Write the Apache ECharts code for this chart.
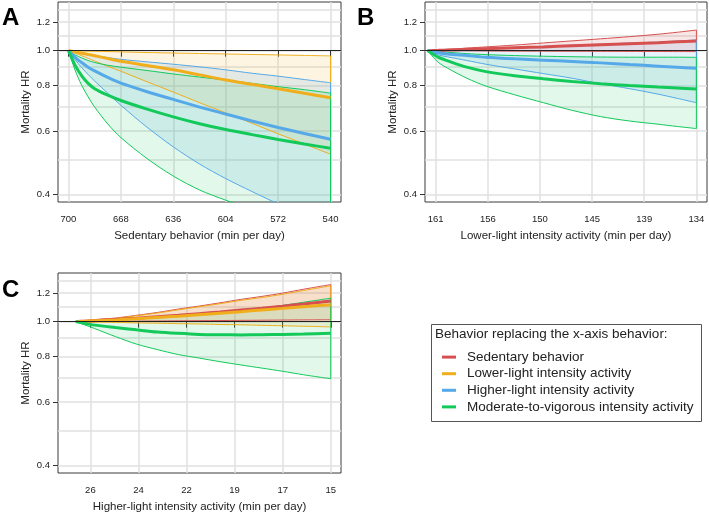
<!DOCTYPE html>
<html><head><meta charset="utf-8">
<script src="https://cdn.jsdelivr.net/npm/echarts@6/dist/echarts.min.js"></script>
<style>html,body{margin:0;padding:0;background:#fff}#c{width:709px;height:515px}</style>
</head><body><div id="c"></div>
<script>
// ---------- y axis (Mortality HR, log scale) ----------
const gridHR  = [0.4, 0.5, 0.6, 0.7, 0.8, 0.9, 1.0, 1.1, 1.2, 1.3];
const labelHR = [0.4, 0.6, 0.8, 1.0, 1.2];

// ---------- Panel A: Sedentary behavior ----------
const xA = [700, 696, 692, 688, 684, 676, 668, 652, 636, 620, 604, 588, 572, 556, 540];
const tickPosA = [700, 668, 636, 604, 572, 540];
const tickLabA = ['700', '668', '636', '604', '572', '540'];
const A_llpa_mid = [1, 0.992, 0.984, 0.976, 0.968, 0.951, 0.935, 0.910, 0.885, 0.857, 0.830, 0.807, 0.785, 0.762, 0.741];
const A_llpa_lo  = [1, 0.984, 0.968, 0.952, 0.936, 0.905, 0.877, 0.820, 0.768, 0.718, 0.673, 0.630, 0.589, 0.552, 0.517];
const A_llpa_hi  = [1, 0.999, 0.998, 0.997, 0.996, 0.994, 0.992, 0.988, 0.985, 0.982, 0.979, 0.976, 0.973, 0.970, 0.967];
const A_hlpa_mid = [1, 0.958, 0.927, 0.900, 0.879, 0.843, 0.813, 0.770, 0.733, 0.698, 0.668, 0.639, 0.613, 0.590, 0.569];
const A_hlpa_lo  = [1, 0.945, 0.898, 0.859, 0.824, 0.762, 0.706, 0.614, 0.542, 0.486, 0.443, 0.408, 0.377, 0.349, 0.326];
const A_hlpa_hi  = [1, 0.989, 0.981, 0.973, 0.967, 0.957, 0.946, 0.931, 0.917, 0.902, 0.885, 0.866, 0.850, 0.832, 0.815];
const A_mvpa_mid = [1, 0.912, 0.853, 0.812, 0.785, 0.753, 0.728, 0.689, 0.656, 0.628, 0.605, 0.586, 0.568, 0.552, 0.537];
const A_mvpa_lo  = [1, 0.884, 0.803, 0.745, 0.698, 0.627, 0.575, 0.503, 0.450, 0.412, 0.386, 0.364, 0.345, 0.329, 0.315];
const A_mvpa_hi  = [1, 0.973, 0.955, 0.939, 0.927, 0.911, 0.900, 0.881, 0.862, 0.845, 0.829, 0.812, 0.795, 0.780, 0.763];

// ---------- Panel B: Lower-light intensity activity ----------
const xB = [162.1, 161, 160, 158, 156, 153, 150, 147, 144, 141, 138, 136, 134];
const tickPosB = [161.25, 155.8, 150.35, 144.9, 139.45, 134];
const tickLabB = ['161', '156', '150', '145', '139', '134'];
const B_sed_mid  = [1, 1.002, 1.004, 1.008, 1.012, 1.018, 1.024, 1.031, 1.038, 1.045, 1.052, 1.058, 1.064];
const B_sed_lo   = [1, 1.000, 0.9995, 0.999, 0.998, 0.997, 0.9965, 0.996, 0.9955, 0.995, 0.9945, 0.994, 0.994];
const B_sed_hi   = [1, 1.004, 1.008, 1.016, 1.024, 1.036, 1.050, 1.064, 1.078, 1.093, 1.110, 1.124, 1.140];
const B_hlpa_mid = [1, 0.987, 0.979, 0.969, 0.959, 0.949, 0.941, 0.933, 0.925, 0.915, 0.906, 0.900, 0.894];
const B_hlpa_lo  = [1, 0.973, 0.961, 0.939, 0.917, 0.890, 0.864, 0.839, 0.810, 0.785, 0.758, 0.738, 0.718];
const B_hlpa_hi  = [1, 1.002, 1.005, 1.010, 1.015, 1.021, 1.028, 1.035, 1.042, 1.049, 1.056, 1.063, 1.070];
const B_mvpa_mid = [1, 0.959, 0.937, 0.900, 0.875, 0.852, 0.836, 0.822, 0.810, 0.801, 0.793, 0.788, 0.783];
const B_mvpa_lo  = [1, 0.929, 0.894, 0.839, 0.798, 0.755, 0.718, 0.684, 0.657, 0.639, 0.626, 0.617, 0.609];
const B_mvpa_hi  = [1, 0.994, 0.990, 0.981, 0.975, 0.969, 0.965, 0.962, 0.960, 0.959, 0.959, 0.959, 0.958];

// ---------- Panel C: Higher-light intensity activity ----------
const xC = [26.9, 26.5, 26, 25, 24, 23, 22, 21, 20, 19, 18, 17, 16, 14.7];
const tickPosC = [26.2, 23.9, 21.6, 19.3, 17.0, 14.7];
const tickLabC = ['26', '24', '22', '19', '17', '15'];
const C_sed_mid  = [1, 1.003, 1.006, 1.014, 1.022, 1.032, 1.041, 1.052, 1.063, 1.076, 1.089, 1.103, 1.119, 1.141];
const C_sed_lo   = [1, 1.0005, 1.001, 1.002, 1.003, 1.004, 1.005, 1.006, 1.007, 1.008, 1.009, 1.010, 1.011, 1.012];
const C_sed_hi   = [1, 1.005, 1.013, 1.023, 1.041, 1.060, 1.083, 1.104, 1.127, 1.152, 1.174, 1.199, 1.229, 1.266];
const C_llpa_mid = [1, 1.002, 1.005, 1.011, 1.019, 1.027, 1.035, 1.045, 1.055, 1.065, 1.077, 1.088, 1.100, 1.114];
const C_llpa_lo  = [1, 0.999, 0.9975, 0.995, 0.992, 0.990, 0.987, 0.985, 0.982, 0.980, 0.977, 0.974, 0.971, 0.967];
const C_llpa_hi  = [1, 1.004, 1.011, 1.021, 1.038, 1.056, 1.078, 1.099, 1.121, 1.145, 1.166, 1.190, 1.219, 1.256];
const C_mvpa_mid = [1, 0.989, 0.978, 0.963, 0.949, 0.936, 0.928, 0.922, 0.920, 0.919, 0.920, 0.922, 0.924, 0.929];
const C_mvpa_lo  = [1, 0.981, 0.957, 0.909, 0.867, 0.837, 0.811, 0.793, 0.775, 0.759, 0.744, 0.729, 0.713, 0.695];
const C_mvpa_hi  = [1, 1.002, 1.005, 1.010, 1.017, 1.024, 1.033, 1.044, 1.057, 1.072, 1.089, 1.109, 1.131, 1.161];

const xTitles = ['Sedentary behavior (min per day)', 'Lower-light intensity activity (min per day)', 'Higher-light intensity activity (min per day)'];
const panelLetters = ['A', 'B', 'C'];
const legendTitle = 'Behavior replacing the x-axis behavior:';
const NAMES = {sed: 'Sedentary behavior', llpa: 'Lower-light intensity activity', hlpa: 'Higher-light intensity activity', mvpa: 'Moderate-to-vigorous intensity activity'};

// ---------- styles ----------
const FONT = 'Liberation Sans, Arial, Helvetica, sans-serif';
const COL  = {sed: '#d65050', llpa: '#f0ae1c', hlpa: '#56a9e8', mvpa: '#12c95a'};
const FILL = {sed: 'rgba(214,80,80,0.14)', llpa: 'rgba(240,174,28,0.13)', hlpa: 'rgba(86,169,232,0.15)', mvpa: 'rgba(18,201,90,0.12)'};
const GRIDLINE = {color: '#e0e0e0', width: 1.5};
const yMin = Math.log(0.4) - 0.0471, yMax = Math.log(1.3) + 0.0471;

const panels = [
  {xs: xA, tp: tickPosA, tl: tickLabA, min: 533.6, max: 706.4, grid: {left: 58, top: 2, width: 283, height: 200},
   groups: [['llpa', A_llpa_lo, A_llpa_mid, A_llpa_hi], ['hlpa', A_hlpa_lo, A_hlpa_mid, A_hlpa_hi], ['mvpa', A_mvpa_lo, A_mvpa_mid, A_mvpa_hi]]},
  {xs: xB, tp: tickPosB, tl: tickLabB, min: 132.89, max: 162.37, grid: {left: 425, top: 2, width: 282, height: 200},
   groups: [['sed', B_sed_lo, B_sed_mid, B_sed_hi], ['hlpa', B_hlpa_lo, B_hlpa_mid, B_hlpa_hi], ['mvpa', B_mvpa_lo, B_mvpa_mid, B_mvpa_hi]]},
  {xs: xC, tp: tickPosC, tl: tickLabC, min: 14.21, max: 27.75, grid: {left: 58, top: 273, width: 283, height: 200},
   groups: [['sed', C_sed_lo, C_sed_mid, C_sed_hi], ['llpa', C_llpa_lo, C_llpa_mid, C_llpa_hi], ['mvpa', C_mvpa_lo, C_mvpa_mid, C_mvpa_hi]]}
];

const grids = [], xAxes = [], yAxes = [], series = [], graphics = [];
const SM = 0.3;

panels.forEach((p, i) => {
  grids.push(Object.assign({show: true, borderColor: '#3a3a3a', borderWidth: 1, backgroundColor: 'transparent', outerBoundsMode: 'none', containLabel: false}, p.grid));
  xAxes.push({
    gridIndex: i, type: 'value', inverse: true, min: p.min, max: p.max,
    axisLine: {show: false},
    axisTick: {show: true, customValues: p.tp, length: 6, lineStyle: {color: '#333', width: 1}},
    axisLabel: {customValues: p.tp, fontSize: 9.5, color: '#222', margin: 12, fontFamily: FONT,
      formatter: v => { let k = 0, d = Infinity; p.tp.forEach((t, j) => { if (Math.abs(t - v) < d) { d = Math.abs(t - v); k = j; } }); return p.tl[k]; }},
    splitLine: {show: true, lineStyle: GRIDLINE},
    name: xTitles[i], nameLocation: 'middle', nameGap: 28,
    nameTextStyle: {fontSize: 11.5, color: '#222', fontFamily: FONT}
  });
  yAxes.push({
    gridIndex: i, type: 'value', min: yMin, max: yMax, position: 'left',
    axisLine: {show: false},
    axisTick: {show: true, customValues: labelHR.map(Math.log), length: 5, lineStyle: {color: '#333'}},
    axisLabel: {customValues: labelHR.map(Math.log), formatter: v => Math.exp(v).toFixed(1), fontSize: 9.5, color: '#222', margin: 8, fontFamily: FONT},
    splitLine: {show: false},
    name: 'Mortality HR', nameLocation: 'middle', nameGap: 26,
    nameTextStyle: {fontSize: 11.5, color: '#222', fontFamily: FONT}
  });
  yAxes.push({
    gridIndex: i, type: 'value', min: yMin, max: yMax, position: 'left',
    axisLine: {show: false},
    axisTick: {show: false, customValues: gridHR.map(Math.log)},
    axisLabel: {show: false},
    splitLine: {show: true, lineStyle: GRIDLINE}
  });

  const base = {type: 'line', xAxisIndex: i, yAxisIndex: 2 * i, symbol: 'none', showSymbol: false, smooth: SM, silent: true, animation: false};
  const xs = p.xs, last = xs.length - 1;
  // bands: stacked lower + (upper - lower) in log space; value dimension first so the stack is on y
  p.groups.forEach(([key, lo, mid, hi]) => {
    const st = 'band' + i + key;
    series.push(Object.assign({}, base, {name: 'p' + i + key + 'bandlo', stack: st, stackStrategy: 'all', z: 1,
      encode: {x: 1, y: 0},
      lineStyle: {opacity: 0, width: 0}, data: xs.map((x, j) => [Math.log(lo[j]), x])}));
    series.push(Object.assign({}, base, {name: 'p' + i + key + 'band', stack: st, stackStrategy: 'all', z: 1,
      encode: {x: 1, y: 0},
      lineStyle: {opacity: 0, width: 0}, areaStyle: {color: FILL[key], opacity: 1},
      data: xs.map((x, j) => [Math.log(hi[j]) - Math.log(lo[j]), x])}));
  });
  // thin CI lines and end edges
  p.groups.forEach(([key, lo, mid, hi], gi) => {
    const ls = {color: COL[key], width: 1};
    const s1 = Object.assign({}, base, {name: 'p' + i + key + 'lo', z: 3, lineStyle: ls, itemStyle: {color: COL[key]},
      data: xs.map((x, j) => [x, Math.log(lo[j])])});
    if (gi === 0) {
      s1.markLine = {silent: true, symbol: ['none', 'none'], label: {show: false}, animation: false,
        lineStyle: {color: '#222', width: 1, type: 'solid'}, data: [{yAxis: Math.log(1)}]};
    }
    series.push(s1);
    series.push(Object.assign({}, base, {name: 'p' + i + key + 'hi', z: 3, lineStyle: ls, itemStyle: {color: COL[key]},
      data: xs.map((x, j) => [x, Math.log(hi[j])])}));
    series.push(Object.assign({}, base, {name: 'p' + i + key + 'edge', z: 3, smooth: false, lineStyle: ls, itemStyle: {color: COL[key]},
      data: [[xs[last], Math.log(hi[last])], [xs[last], Math.log(lo[last])]]}));
  });
  // central estimates
  p.groups.forEach(([key, lo, mid, hi]) => {
    series.push(Object.assign({}, base, {name: NAMES[key], z: 4, color: COL[key],
      lineStyle: {color: COL[key], width: 3}, itemStyle: {color: COL[key]},
      data: xs.map((x, j) => [x, Math.log(mid[j])])}));
  });
});

// panel letters
[[2, 19], [357, 19], [2, 291]].forEach((pos, i) => {
  graphics.push({type: 'text', left: pos[0], top: pos[1] - 13, style: {text: panelLetters[i], font: 'bold 24px ' + FONT, fill: '#000'}});
});
// legend box and title
graphics.push({type: 'rect', shape: {x: 431.5, y: 324.5, width: 270, height: 97}, style: {fill: '#fff', stroke: '#555', lineWidth: 1}, z: 0});
graphics.push({type: 'text', x: 435, y: 334.5, style: {text: legendTitle, font: '13.5px ' + FONT, fill: '#222', verticalAlign: 'middle', textVerticalAlign: 'middle'}, z: 1});

const chart = echarts.init(document.getElementById('c'), null, {renderer: 'canvas'});
chart.setOption({
  animation: false,
  backgroundColor: '#fff',
  textStyle: {fontFamily: FONT},
  grid: grids, xAxis: xAxes, yAxis: yAxes, series: series,
  legend: {
    data: [NAMES.sed, NAMES.llpa, NAMES.hlpa, NAMES.mvpa],
    orient: 'vertical', left: 442, top: 349, padding: 0, itemGap: 0.4,
    itemWidth: 14, itemHeight: 3, icon: 'rect', selectedMode: false, z: 5,
    textStyle: {fontSize: 13.5, color: '#222', lineHeight: 16.2, padding: [0, 0, 0, 6], fontFamily: FONT}
  },
  graphic: graphics
});
</script></body></html>
